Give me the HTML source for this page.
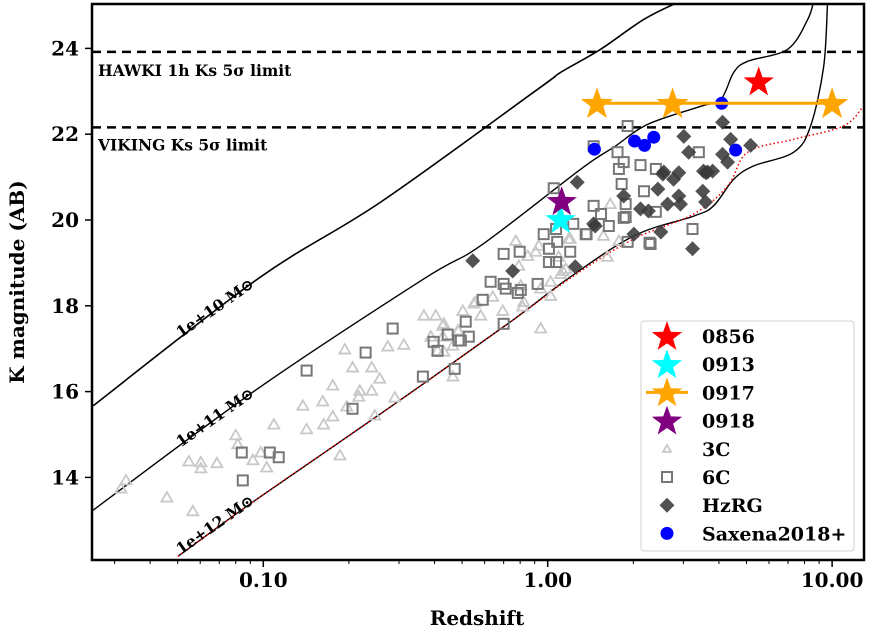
<!DOCTYPE html>
<html><head><meta charset="utf-8"><style>
body{margin:0;background:#fff}
svg text{font-family:"DejaVu Serif","Liberation Serif",serif;font-weight:bold}
</style></head><body>
<svg id="chart" width="870" height="630" viewBox="0 0 870 630" xmlns="http://www.w3.org/2000/svg">
<defs><clipPath id="clip"><rect x="92" y="4" width="772" height="556"/></clipPath></defs>
<g id="plot" clip-path="url(#clip)"></g>
<g id="axes"></g>
</svg>
<script>
const hawkiLimit = 23.92;
const vikingLimit = 22.16;
const track10 = [[0.0252,15.67],[0.0957,18.63],[0.259,20.42],[0.923,23.05],[1.11,23.44],[1.535,23.98],[2.17,24.67],[2.93,25.1],[3.5,25.3]];
const track11 = [[0.0249,13.21],[0.0957,16.07],[0.367,18.63],[0.581,19.40],[1.31,21.19],[1.71,21.70],[2.25,22.23],[3.45,22.65],[4.06,22.81],[4.51,23.44],[5.05,23.70],[6.98,23.98],[8.20,24.67],[8.61,25.1],[8.8,25.4]];
const track12 = [[0.0501,12.16],[0.0957,13.51],[0.281,15.65],[0.741,17.63],[1.176,18.63],[2.01,19.63],[3.26,20.09],[3.83,20.33],[4.51,20.95],[5.30,21.26],[7.33,21.58],[8.40,22.19],[9.34,23.58],[9.64,25.1],[9.7,25.4]];
const trackRed = [[0.0501,12.16],[0.0957,13.51],[0.281,15.65],[0.741,17.63],[1.234,18.70],[2.01,19.56],[3.26,20.14],[4.29,20.79],[5.05,21.58],[7.33,21.88],[10.97,22.19],[12.8,22.63]];
const star0856 = [[5.52,23.23]];
const star0913 = [[1.11,20.02]];
const star0917z = [1.49,2.75,10.0];
const star0917K = 22.72;
const star0918 = [[1.12,20.44]];
const saxena = [[1.46,21.65],[2.02,21.84],[2.19,21.74],[2.36,21.93],[4.09,22.72],[4.58,21.63]];
const hzrg = [[4.12,22.28],[3.01,21.95],[3.13,21.58],[4.40,21.88],[4.12,21.53],[4.29,21.35],[5.17,21.74],[3.65,21.12],[3.80,21.14],[3.53,21.14],[2.56,21.12],[2.77,20.95],[2.89,21.10],[2.44,20.72],[2.89,20.56],[3.51,20.67],[3.59,20.42],[2.64,20.37],[2.93,20.37],[2.12,20.26],[2.26,20.21],[2.50,19.72],[2.01,19.67],[3.23,19.33],[1.27,20.88],[1.85,20.56],[1.47,19.86],[1.25,18.91],[0.545,19.05],[0.753,18.81],[1.45,19.91],[2.54,21.07],[3.6,21.1]];
const sixC = [[1.91,22.19],[1.45,21.72],[1.76,21.58],[1.85,21.35],[1.78,21.19],[2.12,21.28],[2.40,21.19],[3.40,21.58],[1.82,20.84],[2.18,20.67],[1.88,20.37],[1.45,20.33],[1.54,20.14],[1.85,20.05],[2.40,20.19],[1.23,19.91],[1.64,19.86],[1.37,19.67],[1.91,19.49],[2.28,19.47],[1.20,19.26],[3.23,19.79],[1.05,20.74],[0.968,19.67],[1.07,19.79],[1.08,19.49],[1.01,19.33],[1.01,19.02],[1.07,19.02],[0.700,19.21],[0.797,19.26],[1.36,19.67],[1.88,20.07],[2.30,19.44],[0.630,18.56],[0.700,18.51],[0.712,18.40],[0.804,18.37],[0.785,18.30],[0.922,18.51],[0.591,18.14],[0.515,17.63],[0.700,17.58],[0.285,17.47],[0.445,17.33],[0.528,17.28],[0.397,17.16],[0.495,17.19],[0.229,16.91],[0.142,16.49],[0.486,17.19],[0.410,16.95],[0.364,16.35],[0.471,16.53],[0.206,15.60],[0.0840,14.58],[0.1054,14.58],[0.1133,14.47],[0.0847,13.93]];
const threeC = [[0.0316,13.74],[0.0329,13.93],[0.0458,13.53],[0.0565,13.21],[0.0547,14.37],[0.0603,14.35],[0.0603,14.21],[0.0687,14.33],[0.0800,14.98],[0.0813,14.77],[0.0919,14.40],[0.0980,14.58],[0.1028,14.23],[0.1089,15.23],[0.1377,15.67],[0.142,15.12],[0.1618,15.77],[0.163,15.23],[0.1755,16.14],[0.1755,15.42],[0.1934,16.98],[0.206,16.56],[0.2406,16.56],[0.2185,16.02],[0.2406,16.02],[0.1965,15.65],[0.2167,15.88],[0.2567,16.30],[0.2466,15.44],[0.274,17.05],[0.312,17.09],[0.290,15.86],[0.186,14.51],[0.367,17.77],[0.404,17.77],[0.431,17.58],[0.410,16.95],[0.431,16.93],[0.464,17.07],[0.483,17.42],[0.464,16.35],[0.550,18.05],[0.581,17.77],[0.641,18.21],[0.695,17.88],[0.772,19.51],[0.930,19.40],[0.908,19.26],[0.791,18.93],[0.851,19.16],[1.157,18.86],[1.20,19.56],[1.093,19.14],[1.66,20.37],[1.57,19.63],[1.78,19.51],[1.62,19.14],[1.024,18.56],[1.11,18.74],[1.13,18.81],[0.945,18.40],[0.804,18.47],[0.824,18.09],[1.024,18.23],[0.558,18.09],[0.503,17.88],[0.428,17.53],[0.486,17.42],[0.945,17.47],[0.388,17.28],[0.428,17.28],[1.185,19.56],[0.817,17.98]];
const xTickVals = [0.1,1,10];
const xTickLabels = ["0.10","1.00","10.00"];
const yTickVals = [14,16,18,20,22,24];
const massLabels = ["1e+10 M\u2299","1e+11 M\u2299","1e+12 M\u2299"];
const massLabelZ = [0.0693,0.0693,0.0693];
const massLabelK = [17.85,15.3,12.8];
const legendNames = ["0856","0913","0917","0918","3C","6C","HzRG","Saxena2018+"];

const NS="http://www.w3.org/2000/svg";
function X(z){return 547.7+284.4*Math.log10(z);}
function Y(k){return 220-(k-20)*42.9;}
const plot=document.getElementById('plot'), axes=document.getElementById('axes');
function mk(tag,attrs,parent){const e=document.createElementNS(NS,tag);for(const k in attrs)e.setAttribute(k,attrs[k]);parent.appendChild(e);return e;}
function starPts(cx,cy,R){let p=[];for(let i=0;i<10;i++){const r=i%2?R*0.4:R;const a=-Math.PI/2+i*Math.PI/5;p.push((cx+r*Math.cos(a)).toFixed(1)+','+(cy+r*Math.sin(a)).toFixed(1));}return p.join(' ');}
function path(pts){
 const P=pts.map(p=>[X(p[0]),Y(p[1])]);
 let d='M'+P[0][0].toFixed(1)+','+P[0][1].toFixed(1);
 for(let i=0;i<P.length-1;i++){
  const p0=P[i-1]||P[i],p1=P[i],p2=P[i+1],p3=P[i+2]||P[i+1];
  const c1=[p1[0]+(p2[0]-p0[0])/6,p1[1]+(p2[1]-p0[1])/6];
  const c2=[p2[0]-(p3[0]-p1[0])/6,p2[1]-(p3[1]-p1[1])/6];
  d+=' C'+c1[0].toFixed(1)+','+c1[1].toFixed(1)+' '+c2[0].toFixed(1)+','+c2[1].toFixed(1)+' '+p2[0].toFixed(1)+','+p2[1].toFixed(1);
 }
 return d;}

let e;
e=mk('line',{x1:92,x2:864,y1:Y(hawkiLimit),y2:Y(hawkiLimit),stroke:'#000','stroke-width':2.5,'stroke-dasharray':'9,6'},plot);


e=mk('line',{x1:92,x2:864,y1:Y(vikingLimit),y2:Y(vikingLimit),stroke:'#000','stroke-width':2.5,'stroke-dasharray':'9,6'},plot);


e=mk('text',{x:98,y:Y(hawkiLimit)+24,'font-size':15.5},plot);e.textContent='HAWKI 1h Ks 5\u03c3 limit';


e=mk('text',{x:98,y:Y(vikingLimit)+23,'font-size':15.5},plot);e.textContent='VIKING Ks 5\u03c3 limit';



[[track10,'track-1e10',1.6],[track11,'track-1e11',1.4],[track12,'track-1e12',1.4]].forEach(t=>{
 const p=mk('path',{d:path(t[0]),fill:'none',stroke:'#000','stroke-width':t[2]},plot);
 
 
});
e=mk('path',{d:path(trackRed),fill:'none',stroke:'#e00','stroke-width':1.5,'stroke-dasharray':'1.5,2.5'},plot);


massLabels.forEach((s,i)=>{
 const x=X(massLabelZ[i]),y=Y(massLabelK[i]);
 const t=mk('text',{x:x,y:y,'font-size':15.5,'text-anchor':'middle',transform:`rotate(-35 ${x} ${y})`},plot);t.textContent=s;
 
 
});

threeC.forEach(p=>{const x=X(p[0]),y=Y(p[1]);
 const t=mk('polygon',{points:`${x},${y-5.5} ${x-5.5},${y+4} ${x+5.5},${y+4}`,fill:'none',stroke:'#c8c8c8','stroke-width':1.8},plot);
 
 });
sixC.forEach(p=>{const x=X(p[0]),y=Y(p[1]);
 const t=mk('rect',{x:x-5,y:y-5,width:10,height:10,fill:'none',stroke:'#777','stroke-width':2},plot);
 
 });
hzrg.forEach(p=>{const x=X(p[0]),y=Y(p[1]);
 const t=mk('polygon',{points:`${x},${y-7.5} ${x+7.5},${y} ${x},${y+7.5} ${x-7.5},${y}`,fill:'#3a3a3a','fill-opacity':0.88},plot);
 
 });
saxena.forEach(p=>{const t=mk('circle',{cx:X(p[0]),cy:Y(p[1]),r:6.5,fill:'#0000ff'},plot);
 
 });
e=mk('line',{x1:X(star0917z[0]),x2:X(star0917z[2]),y1:Y(star0917K),y2:Y(star0917K),stroke:'#ffa500','stroke-width':3},plot);


star0917z.forEach(z=>{const t=mk('polygon',{points:starPts(X(z),Y(star0917K)+1,17),fill:'#ffa500'},plot);
 
 });
[[star0856,'#ff0000','star-0856'],[star0913,'#00ffff','star-0913'],[star0918,'#800080','star-0918']].forEach(s=>{
 s[0].forEach(p=>{const t=mk('polygon',{points:starPts(X(p[0]),Y(p[1])+1,16),fill:s[1]},plot);
 
 });
});

e=mk('rect',{x:92,y:4,width:772,height:556,fill:'none',stroke:'#000','stroke-width':2.5},axes);


for(let d=-2;d<=1;d++)for(let m=1;m<10;m++){const z=m*Math.pow(10,d);const x=X(z);if(x<92||x>864)continue;
 const major=m===1;
 const t=mk('line',{x1:x,x2:x,y1:561,y2:major?567:564,stroke:'#000','stroke-width':major?1.5:1},axes);
 
 }
xTickVals.forEach((v,i)=>{const t=mk('text',{x:X(v),y:587,'font-size':20,'text-anchor':'middle'},axes);t.textContent=xTickLabels[i];
 
 });
yTickVals.forEach(v=>{const y=Y(v);
 const l=mk('line',{x1:85,x2:91,y1:y,y2:y,stroke:'#000','stroke-width':1.5},axes);
 
 
 const t=mk('text',{x:79,y:y+7,'font-size':20,'text-anchor':'end'},axes);t.textContent=String(v);
 
 });
e=mk('text',{x:477,y:625,'font-size':20,'text-anchor':'middle'},axes);e.textContent='Redshift';


e=mk('text',{x:24,y:282,'font-size':20,'text-anchor':'middle',transform:'rotate(-90 24 282)'},axes);e.textContent='K magnitude (AB)';



const lg=mk('g',{},axes);


mk('rect',{x:641,y:321,width:213,height:230,rx:3,fill:'#fff','fill-opacity':0.85,stroke:'#d0d0d0','stroke-width':1},lg);
legendNames.forEach((n,i)=>{
 const y=336+i*28.2, x=667;
 const g=mk('g',{},lg);
 
 
 if(i===0)mk('polygon',{points:starPts(x,y+1,16),fill:'#ff0000'},g);
 if(i===1)mk('polygon',{points:starPts(x,y+1,16),fill:'#00ffff'},g);
 if(i===2){mk('line',{x1:646,x2:688,y1:y,y2:y,stroke:'#ffa500','stroke-width':3},g);mk('polygon',{points:starPts(x,y+1,16),fill:'#ffa500'},g);}
 if(i===3)mk('polygon',{points:starPts(x,y+1,16),fill:'#800080'},g);
 if(i===4)mk('polygon',{points:`${x},${y-4} ${x-4},${y+3} ${x+4},${y+3}`,fill:'none',stroke:'#c8c8c8','stroke-width':1.8},g);
 if(i===5)mk('rect',{x:x-5,y:y-5,width:10,height:10,fill:'none',stroke:'#777','stroke-width':2},g);
 if(i===6)mk('polygon',{points:`${x},${y-7.5} ${x+7.5},${y} ${x},${y+7.5} ${x-7.5},${y}`,fill:'#3a3a3a','fill-opacity':0.88},g);
 if(i===7)mk('circle',{cx:x,cy:y,r:6.5,fill:'#0000ff'},g);
 const t=mk('text',{x:702,y:y+7,'font-size':19},g);t.textContent=n;
});
</script>
</body></html>
